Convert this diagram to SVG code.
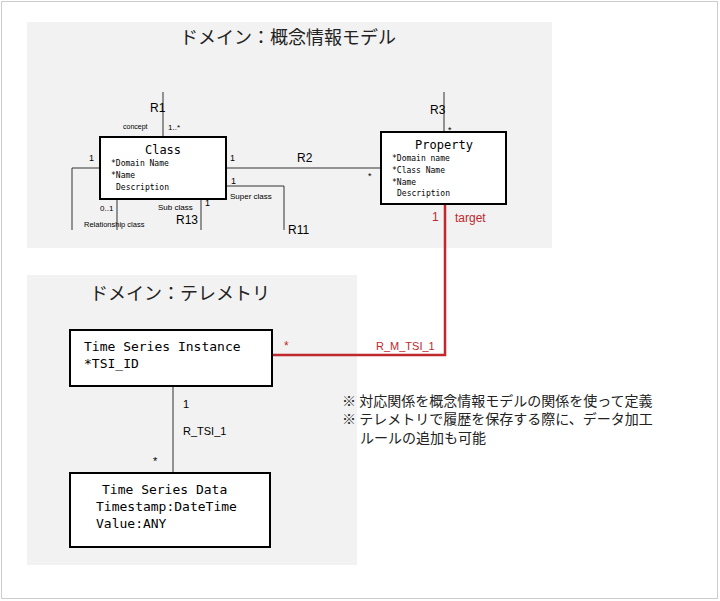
<svg xmlns="http://www.w3.org/2000/svg" width="720" height="601" viewBox="0 0 720 601">
<style>
.bg{fill:#f2f2f2}
.box{fill:#fff;stroke:#000;stroke-width:2}
.ln{stroke:#333;stroke-width:1;fill:none}
.m{font-family:"DejaVu Sans Mono",monospace;fill:#000}
.s{font-family:"Liberation Sans",sans-serif;fill:#000}
.j{font-family:"Noto Sans CJK JP",sans-serif;fill:#222}
.r{fill:#c0282d;font-family:"Liberation Sans",sans-serif}
</style>
<rect x="1.5" y="1.5" width="716" height="597" fill="#fff" stroke="#ccc"/>
<rect class="bg" x="27" y="22" width="525" height="226"/>
<rect class="bg" x="27" y="275" width="330" height="290"/>
<text class="j" x="288" y="44" font-size="18" text-anchor="middle">ドメイン：概念情報モデル</text>
<text class="j" x="180" y="300" font-size="18" text-anchor="middle">ドメイン：テレメトリ</text>
<g id="connectors">
<path class="ln" d="M163 92V137"/>
<path class="ln" d="M100 168H72V230"/>
<path class="ln" d="M117 199V230"/>
<path class="ln" d="M201 199V230"/>
<path class="ln" d="M226 168H381"/>
<path class="ln" d="M226 186H284V230"/>
<path class="ln" d="M444 92V132" stroke="#777"/>
<path d="M445 204V355H272" fill="none" stroke="#c0282d" stroke-width="2.5"/>
<path class="ln" d="M173 386V473"/>
<text class="s" x="150" y="112" font-size="12">R1</text>
<text class="s" x="123" y="129" font-size="7">concept</text>
<text class="s" x="168" y="130" font-size="8">1..*</text>
<text class="s" x="89" y="161" font-size="9">1</text>
<text class="s" x="230" y="161" font-size="9">1</text>
<text class="s" x="297" y="162" font-size="12">R2</text>
<text class="s" x="368" y="179" font-size="9">*</text>
<text class="s" x="231" y="184" font-size="9">1</text>
<text class="s" x="230" y="199" font-size="8">Super class</text>
<text class="s" x="100" y="211" font-size="8">0..1</text>
<text class="s" x="158" y="210" font-size="8">Sub class</text>
<text class="s" x="205" y="206" font-size="9">1</text>
<text class="s" x="176" y="224" font-size="12">R13</text>
<text class="s" x="84" y="227" font-size="7.5">Relationship class</text>
<text class="s" x="288" y="234" font-size="12">R11</text>
<text class="s" x="430" y="114" font-size="12">R3</text>
<text class="s" x="448" y="133" font-size="9">*</text>
<text class="r" x="432" y="221" font-size="12">1</text>
<text class="r" x="455" y="222" font-size="12">target</text>
<text class="r" x="284" y="350" font-size="12">*</text>
<text class="r" x="376" y="350" font-size="11">R_M_TSI_1</text>
<text class="s" x="183" y="408" font-size="11">1</text>
<text class="s" x="183" y="435" font-size="11">R_TSI_1</text>
<text class="s" x="153" y="465" font-size="11">*</text>
</g>
<g id="class">
<rect class="box" x="100" y="137" width="126" height="62"/>
<text class="m" x="163" y="154" font-size="12" text-anchor="middle">Class</text>
<text class="m" x="111" y="166" font-size="8">*Domain Name</text>
<text class="m" x="111" y="178" font-size="8">*Name</text>
<text class="m" x="116" y="190" font-size="8">Description</text>
</g>
<g id="property">
<rect class="box" x="381" y="132" width="125" height="72"/>
<text class="m" x="444" y="149" font-size="12" text-anchor="middle">Property</text>
<text class="m" x="392" y="161" font-size="8">*Domain name</text>
<text class="m" x="392" y="173" font-size="8">*Class Name</text>
<text class="m" x="392" y="185" font-size="8">*Name</text>
<text class="m" x="397" y="196" font-size="8">Description</text>
</g>
<g id="tsi">
<rect class="box" x="70" y="330" width="202" height="56"/>
<text class="m" x="84" y="351" font-size="13">Time Series Instance</text>
<text class="m" x="84" y="368" font-size="13">*TSI_ID</text>
</g>
<g id="tsd">
<rect class="box" x="70" y="473" width="200" height="74"/>
<text class="m" x="102" y="494" font-size="13">Time Series Data</text>
<text class="m" x="96" y="511" font-size="13">Timestamp:DateTime</text>
<text class="m" x="96" y="528" font-size="13">Value:ANY</text>
</g>
<g id="notes" class="j" font-size="14">
<text x="342" y="406">※ 対応関係を概念情報モデルの関係を使って定義</text>
<text x="342" y="424">※ テレメトリで履歴を保存する際に、データ加工</text>
<text x="360" y="443">ルールの追加も可能</text>
</g>
</svg>
